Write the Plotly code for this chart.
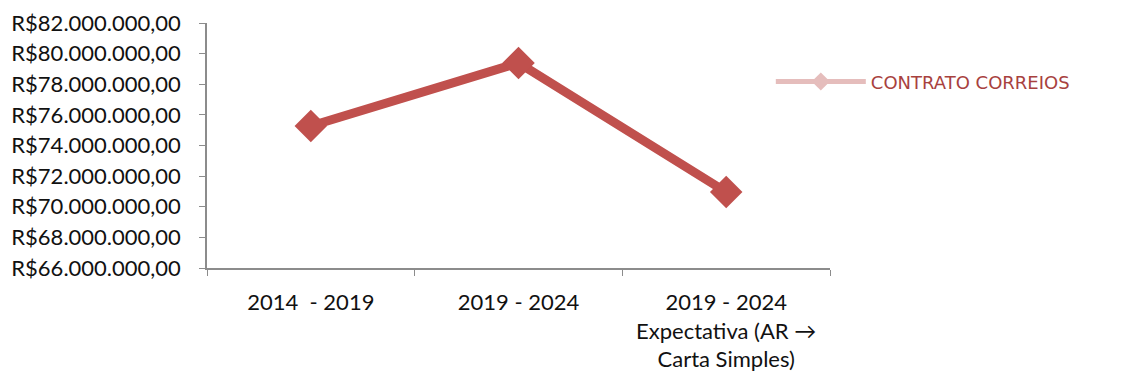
import plotly.graph_objects as go

categories = ["2014  - 2019", "2019 - 2024", "2019 - 2024<br>Expectativa (AR →<br>Carta Simples)"]
values = [75270000, 79390000, 70960000]
series_name = "CONTRATO CORREIOS"
y_ticks = [66e6, 68e6, 70e6, 72e6, 74e6, 76e6, 78e6, 80e6, 82e6]

def brl(v):
    s = f"{v:,.2f}"
    s = s.replace(",", "X").replace(".", ",").replace("X", ".")
    return "R$" + s

y_labels = [brl(v) for v in y_ticks]

fig = go.Figure()
fig.add_trace(go.Scatter(
    x=categories, y=values, mode="lines+markers",
    line=dict(color="#C0504D", width=9),
    marker=dict(symbol="diamond", size=25, color="#C0504D"),
    showlegend=False, name=series_name,
))
fig.add_trace(go.Scatter(
    x=[None], y=[None], mode="lines+markers", name=series_name,
    line=dict(color="#E5BDBC", width=5),
    marker=dict(symbol="diamond", size=14, color="#E5BDBC"),
    showlegend=True,
))

fig.update_layout(
    width=1125, height=379,
    margin=dict(l=199, r=303, t=15, b=119, autoexpand=False),
    plot_bgcolor="white", paper_bgcolor="white",
    font=dict(family="Lato", size=22, color="#111111"),
    legend=dict(
        x=0.905, y=0.76, xanchor="left", yanchor="middle",
        font=dict(family="DejaVu Sans", size=18, color="#A8413E"),
        bgcolor="rgba(0,0,0,0)", itemwidth=90,
    ),
    xaxis=dict(
        range=[-0.5, 2.5], automargin=False,
        showline=True, linecolor="#8C8C8C", linewidth=1.5,
        ticks="outside", ticklen=6, tickcolor="#8C8C8C",
        tickson="boundaries", showgrid=False,
        ticklabelstandoff=14,
        tickfont=dict(family="Lato", size=22, color="#111111"),
    ),
    yaxis=dict(
        range=[66e6, 82e6], tickvals=y_ticks, ticktext=y_labels, automargin=False,
        showline=True, linecolor="#8C8C8C", linewidth=1.5,
        ticks="outside", ticklen=6, tickcolor="#8C8C8C",
        showgrid=False, zeroline=False,
        ticklabelstandoff=14,
        tickfont=dict(family="Lato", size=22, color="#111111"),
    ),
)

fig.write_html("out.html")
